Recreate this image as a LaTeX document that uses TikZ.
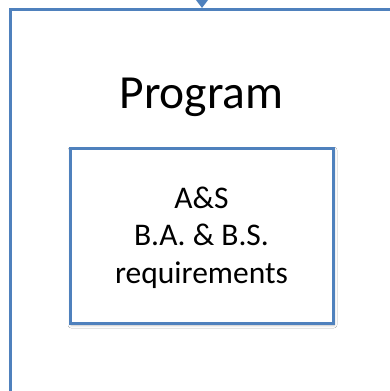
\documentclass[tikz,border=0pt]{standalone}
\usepackage{fontspec}
\setmainfont{Carlito}
\usetikzlibrary{arrows.meta,shadows.blur}
\definecolor{boxblue}{HTML}{4F81BD}
\tikzset{
  bluebox/.style={draw=boxblue, line width=3pt, fill=white, rectangle, inner sep=0pt,
    blur shadow={shadow xshift=1pt, shadow yshift=-2pt, shadow blur steps=6, shadow opacity=25, shadow blur radius=3pt}},
  feed/.style={draw=boxblue, line width=3pt, -{Triangle[width=13pt,length=9pt]}}
}
\begin{document}
\begin{tikzpicture}[x=1pt,y=-1pt]
\useasboundingbox (0,0) rectangle (390,391);
\clip (0,0) rectangle (390,391);
\node[bluebox, minimum width=386pt, minimum height=430pt, anchor=north west] (outer) at (9,8) {};
\coordinate (src) at (202,-30);
\draw[feed] (src) -- (src |- outer.north);
\node[font=\fontsize{47.5}{50}\selectfont, anchor=base, inner sep=0pt] (title) at (201.5,108) {Program};
\node[bluebox, minimum width=263pt, minimum height=175pt] (inner) at (201.5,235.5) {};
\node[font=\fontsize{31.5}{37.5}\selectfont, align=center, anchor=base, inner sep=0pt] (req) at (201.5,283) {A\&S\\B.A. \& B.S.\\requirements};
\end{tikzpicture}
\end{document}
